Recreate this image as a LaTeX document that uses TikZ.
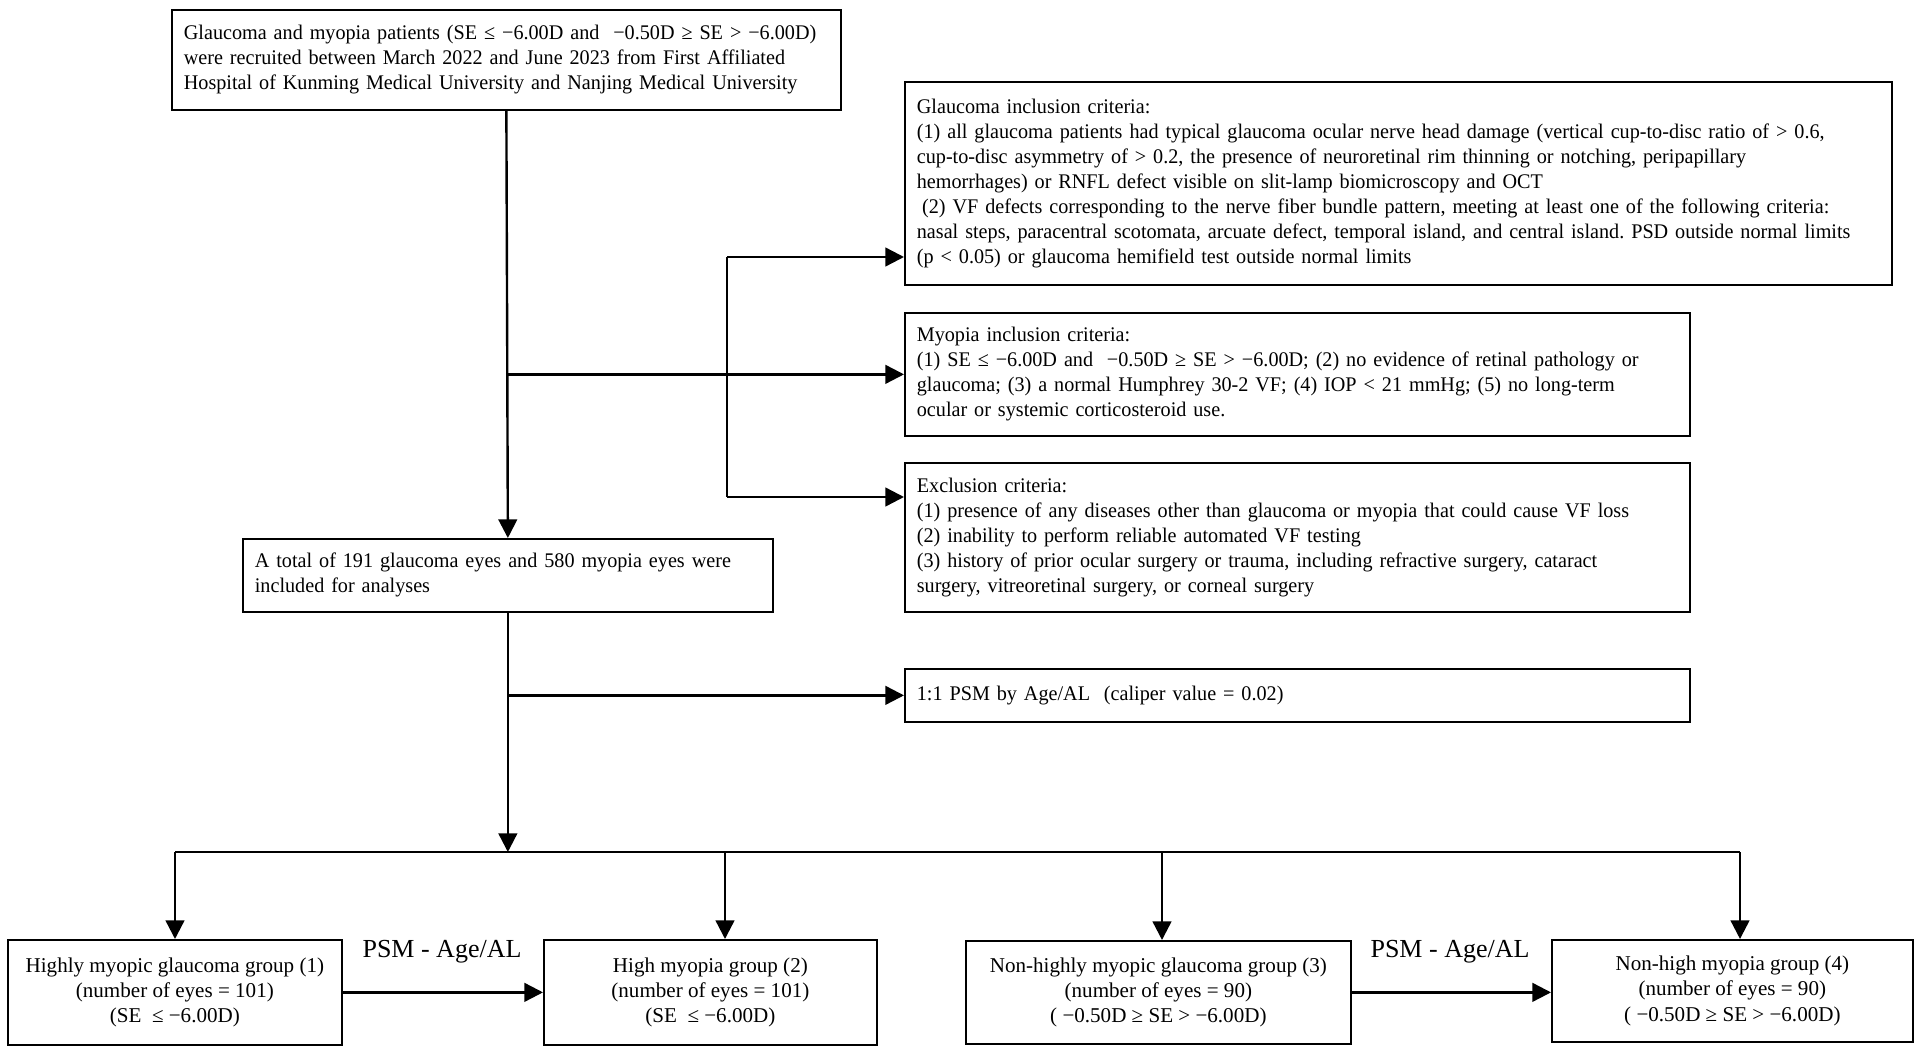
\documentclass[tikz,border=0pt]{standalone}
\usepackage{fontspec}
\setmainfont{Liberation Serif}[FakeStretch=0.97]
\newfontfamily\groupfont{Liberation Serif}
\usetikzlibrary{arrows.meta}
\frenchspacing

\begin{document}
\begin{tikzpicture}[
        x=0.75pt, y=-0.75pt,
        textbox/.style={
            draw,
            line width=1.3pt,
            inner xsep=9pt,
            inner ysep=0pt,
            align=left,
            anchor=north west,
            font=\fontsize{15.6pt}{18.8pt}\selectfont
        },
        groupbox/.style={
            draw,
            line width=1.3pt,
            inner sep=0pt,
            align=center,
            anchor=north west,
            font=\groupfont\fontsize{15.8pt}{18.8pt}\selectfont
        },
        psmlabel/.style={
            anchor=base,
            font=\groupfont\fontsize{19.5pt}{22pt}\selectfont
        },
        line/.style={line width=1.8pt},
        link/.style={
            line width=1.8pt,
            -{Triangle[length=14pt,width=14pt]}
        }
    ]
    \useasboundingbox (0,0) rectangle (1920,1052);

    \node[
        textbox,
        minimum width=501.75pt,
        minimum height=75pt,
        text width=483.75pt
    ] (recruit) at (171,9) {Glaucoma and myopia patients (SE ≤ −6.00D and \ −0.50D ≥ SE > −6.00D)\\
        were recruited between March 2022 and June 2023 from First Affiliated\\
        Hospital of Kunming Medical University and Nanjing Medical University};
    \node[
        textbox,
        minimum width=740.25pt,
        minimum height=152.25pt,
        text width=722.25pt
    ] (glaucoma) at (904,81) {Glaucoma inclusion criteria:\\
        (1) all glaucoma patients had typical glaucoma ocular nerve head damage (vertical cup-to-disc ratio of > 0.6,\\
        cup-to-disc asymmetry of > 0.2, the presence of neuroretinal rim thinning or notching, peripapillary\\
        hemorrhages) or RNFL defect visible on slit-lamp biomicroscopy and OCT\\
        \hspace*{0.25em}(2) VF defects corresponding to the nerve fiber bundle pattern, meeting at least one of the following criteria:\\
        nasal steps, paracentral scotomata, arcuate defect, temporal island, and central island. PSD outside normal limits\\
        (p < 0.05) or glaucoma hemifield test outside normal limits};
    \node[
        textbox,
        minimum width=588.75pt,
        minimum height=92.25pt,
        text width=570.75pt
    ] (myopia) at (904,312) {Myopia inclusion criteria:\\
        (1) SE ≤ −6.00D and \ −0.50D ≥ SE > −6.00D; (2) no evidence of retinal pathology or\\
        glaucoma; (3) a normal Humphrey 30-2 VF; (4) IOP < 21 mmHg; (5) no long-term\\
        ocular or systemic corticosteroid use.};
    \node[
        textbox,
        minimum width=588.75pt,
        minimum height=111.75pt,
        text width=570.75pt
    ] (exclusion) at (904,462) {Exclusion criteria:\\
        (1) presence of any diseases other than glaucoma or myopia that could cause VF loss\\
        (2) inability to perform reliable automated VF testing\\
        (3) history of prior ocular surgery or trauma, including refractive surgery, cataract\\
        surgery, vitreoretinal surgery, or corneal surgery};
    \node[
        textbox,
        minimum width=397.5pt,
        minimum height=54.75pt,
        text width=379.5pt
    ] (total) at (242,538) {A total of 191 glaucoma eyes and 580 myopia eyes were\\
        included for analyses};
    \node[
        textbox,
        minimum width=588.75pt,
        minimum height=39.75pt,
        text width=570.75pt
    ] (psm) at (904,668) {1:1 PSM by Age/AL \ (caliper value = 0.02)};

    \node[
        groupbox,
        minimum width=250.5pt,
        minimum height=78.75pt
    ] (g1) at (7,939) {Highly myopic glaucoma group (1)\\(number of eyes = 101)\\(SE \ ≤ −6.00D)};
    \node[
        groupbox,
        minimum width=249.75pt,
        minimum height=78.75pt
    ] (g2) at (543,939) {High myopia group (2)\\(number of eyes = 101)\\(SE \ ≤ −6.00D)};
    \node[
        groupbox,
        minimum width=288.75pt,
        minimum height=77.25pt
    ] (g3) at (965,940) {Non-highly myopic glaucoma group (3)\\(number of eyes = 90)\\( −0.50D ≥ SE > −6.00D)};
    \node[
        groupbox,
        minimum width=270.75pt,
        minimum height=76.5pt
    ] (g4) at (1551,939) {Non-high myopia group (4)\\(number of eyes = 90)\\( −0.50D ≥ SE > −6.00D)};

    \node[psmlabel] (match left) at (442,957) {PSM - Age/AL};
    \node[psmlabel] (match right) at (1450,957) {PSM - Age/AL};

    \coordinate (fork top) at (727,257);
    \coordinate (fork bottom) at (727,497);
    \foreach \n/\x in {1/175,2/725,3/1162,4/1740}
        \coordinate (drop\n) at (\x,852);

    \draw[link] (recruit.south) -- (total.north);
    \draw[link] (recruit.south |- myopia.west) -- (myopia.west);
    \draw[line] (fork top) -- (fork bottom);
    \draw[link] (fork top) -- (fork top -| glaucoma.west);
    \draw[link] (fork bottom) -- (fork bottom -| exclusion.west);
    \draw[link] (total.south |- psm.west) -- (psm.west);
    \draw[link] (total.south) -- (total.south |- drop1);
    \draw[line] (drop1) -- (drop4);
    \foreach \n in {1,...,4}
        \draw[link] (drop\n) -- (drop\n |- g\n.north);
    \draw[link] (g1.east) -- (g2.west);
    \draw[link] (g3.east) -- (g3.east -| g4.west);
\end{tikzpicture}
\end{document}
